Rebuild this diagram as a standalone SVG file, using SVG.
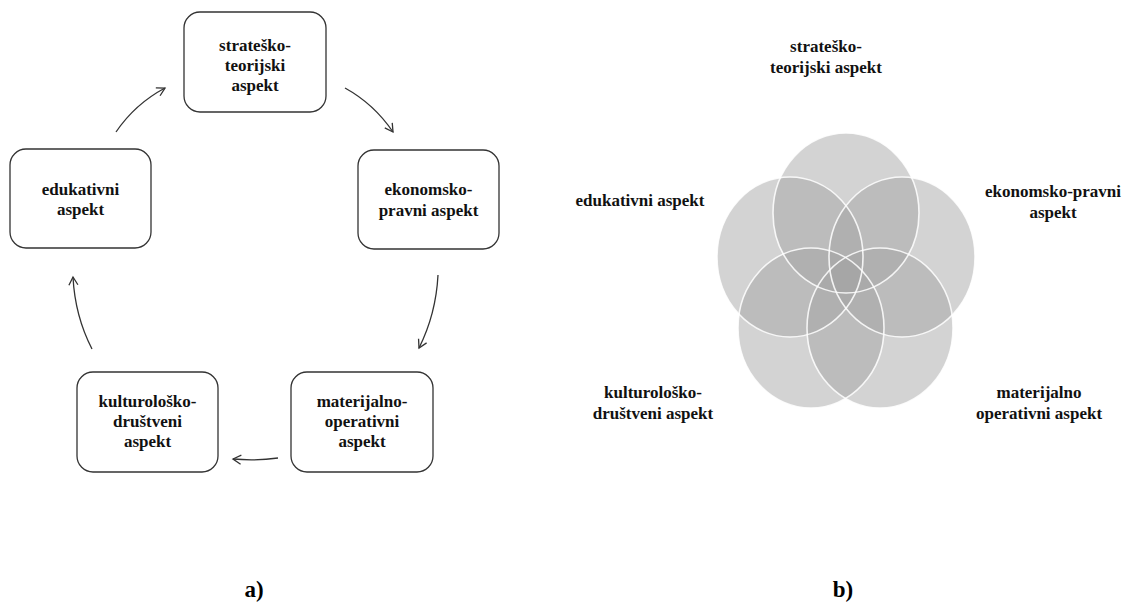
<svg xmlns="http://www.w3.org/2000/svg" width="1139" height="606" viewBox="0 0 1139 606">
<style>
.box{fill:#fff;stroke:#333;stroke-width:1.3}
.t{font-family:"Liberation Serif","Times New Roman",serif;font-weight:bold;font-size:17px;fill:#111;text-anchor:middle}
.lab{font-family:"Liberation Serif","Times New Roman",serif;font-weight:bold;font-size:23px;fill:#000;text-anchor:middle}
.arr{fill:none;stroke:#333;stroke-width:1.3;marker-end:url(#ah)}
.c{fill:#a3a3a3;fill-opacity:0.48}
.cs{fill:none;stroke:#fff;stroke-width:1.6;stroke-opacity:0.85}
</style>
<defs>
<marker id="ah" markerWidth="12" markerHeight="12" refX="9" refY="5" orient="auto" markerUnits="userSpaceOnUse" viewBox="0 0 12 10">
<path d="M1,0.5 L9,5 L1,9.5" fill="none" stroke="#333" stroke-width="1.3"/>
</marker>
</defs>
<rect width="1139" height="606" fill="#fff"/>
<g id="node-strat">
<rect class="box" x="184" y="12" width="142" height="100" rx="16"/>
<text class="t" x="255" y="51">strateško-</text>
<text class="t" x="255" y="71">teorijski</text>
<text class="t" x="255" y="91">aspekt</text>
</g>
<g id="node-ekon">
<rect class="box" x="358" y="150" width="141" height="99" rx="16"/>
<text class="t" x="428.5" y="195">ekonomsko-</text>
<text class="t" x="428.5" y="216">pravni aspekt</text>
</g>
<g id="node-mat">
<rect class="box" x="291" y="372" width="142" height="100" rx="16"/>
<text class="t" x="362" y="407">materijalno-</text>
<text class="t" x="362" y="427">operativni</text>
<text class="t" x="362" y="447">aspekt</text>
</g>
<g id="node-kult">
<rect class="box" x="77" y="372" width="141" height="100" rx="16"/>
<text class="t" x="147.5" y="407">kulturološko-</text>
<text class="t" x="147.5" y="427">društveni</text>
<text class="t" x="147.5" y="447">aspekt</text>
</g>
<g id="node-eduk">
<rect class="box" x="10" y="149" width="141" height="99" rx="16"/>
<text class="t" x="80.5" y="195">edukativni</text>
<text class="t" x="80.5" y="215">aspekt</text>
</g>
<g id="connectors">
<path class="arr" d="M116,132 Q135,104 165,88"/>
<path class="arr" d="M345,88 Q374,104 393,132"/>
<path class="arr" d="M438,275 Q436,314 419,348"/>
<path class="arr" d="M278,458 Q256,461 233,459"/>
<path class="arr" d="M92,349 Q75,316 73,277"/>
</g>
<g id="venn">
<ellipse class="c" cx="846" cy="213" rx="73" ry="80"/>
<ellipse class="c" cx="902" cy="257" rx="73" ry="80"/>
<ellipse class="c" cx="880" cy="328" rx="73" ry="80"/>
<ellipse class="c" cx="811" cy="328" rx="73" ry="80"/>
<ellipse class="c" cx="790" cy="257" rx="73" ry="80"/>
<ellipse class="cs" cx="846" cy="213" rx="73" ry="80"/>
<ellipse class="cs" cx="902" cy="257" rx="73" ry="80"/>
<ellipse class="cs" cx="880" cy="328" rx="73" ry="80"/>
<ellipse class="cs" cx="811" cy="328" rx="73" ry="80"/>
<ellipse class="cs" cx="790" cy="257" rx="73" ry="80"/>
</g>
<g id="label-strat">
<text class="t" x="826" y="52">strateško-</text>
<text class="t" x="826" y="73">teorijski aspekt</text>
</g>
<g id="label-ekon">
<text class="t" x="1053" y="197">ekonomsko-pravni</text>
<text class="t" x="1053" y="218">aspekt</text>
</g>
<g id="label-mat">
<text class="t" x="1039" y="398">materijalno</text>
<text class="t" x="1039" y="419">operativni aspekt</text>
</g>
<g id="label-kult">
<text class="t" x="653" y="398">kulturološko-</text>
<text class="t" x="653" y="419">društveni aspekt</text>
</g>
<g id="label-eduk">
<text class="t" x="640" y="206">edukativni aspekt</text>
</g>
<text class="lab" x="254" y="597">a)</text>
<text class="lab" x="843" y="597">b)</text>
</svg>
